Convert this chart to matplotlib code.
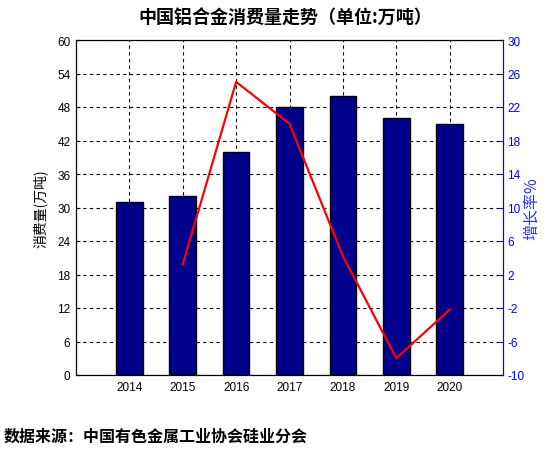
import matplotlib
matplotlib.use("Agg")
import matplotlib.pyplot as plt
import numpy as np

plt.rcParams['font.family'] = ['Liberation Sans', 'Noto Sans CJK SC', 'DejaVu Sans']
plt.rcParams['axes.unicode_minus'] = False
cjk = ['Noto Sans CJK SC', 'DejaVu Sans']

# data
years = [2014, 2015, 2016, 2017, 2018, 2019, 2020]
consumption = [31, 32, 40, 48, 50, 46, 45]          # 万吨
growth_years = [2015, 2016, 2017, 2018, 2019, 2020]
growth = [3.2, 25.0, 20.0, 4.2, -8.0, -2.2]          # %
left_ticks = [0, 6, 12, 18, 24, 30, 36, 42, 48, 54, 60]
right_ticks = [-10, -6, -2, 2, 6, 10, 14, 18, 22, 26, 30]

title = '中国铝合金消费量走势（单位:万吨）'
left_label = '消费量(万吨)'
right_label = '增长率%'
source = '数据来源：中国有色金属工业协会硅业分会'

W, H = 551, 452
fig = plt.figure(figsize=(W / 100, H / 100), dpi=100)
ax = fig.add_axes([76 / W, 1 - 376 / H, (503 - 76) / W, (376 - 41) / H])

ax.bar(years, consumption, width=0.5, color='#00008B', edgecolor='black', linewidth=1.0, zorder=2)
ax.set_xlim(2013, 2021)
ax.set_ylim(0, 60)
ax.set_xticks(years)
ax.set_yticks(left_ticks)
ax.set_axisbelow(True)
ax.grid(True, linestyle=(0, (3, 3)), color='black', linewidth=0.8)
ax.tick_params(direction='in', length=3, labelsize=8.5, pad=4)
ax.set_ylabel(left_label, family=cjk, fontsize=10)
ax.yaxis.set_label_coords(-0.066, 0.5)

ax2 = ax.twinx()
ax2.plot(growth_years, growth, color='red', linewidth=1.6)
ax2.set_ylim(-10, 30)
ax2.set_yticks(right_ticks)
ax2.tick_params(direction='in', length=3, labelsize=8.5, pad=3, colors='blue')
ax2.spines['right'].set_color('blue')
ax2.set_ylabel(right_label, family=cjk, fontsize=11.5, color='#3030ff')
ax2.yaxis.set_label_coords(1.047, 0.5)

fig.text(285 / W, 1 - 18 / H, title, family=cjk, fontsize=13, fontweight='bold',
         ha='center', va='center')
fig.text(4 / W, 1 - 437 / H, source, family=cjk, fontsize=11.5, fontweight='bold',
         ha='left', va='center')

fig.savefig('out.png', dpi=100, facecolor='white')
